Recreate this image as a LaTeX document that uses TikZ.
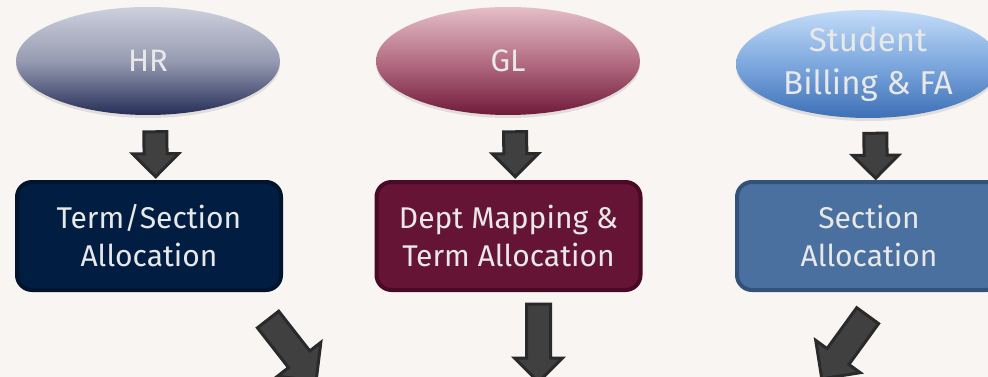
\documentclass[tikz,border=0pt]{standalone}
\usepackage{xcolor}
\usepackage{fontspec}
\setmainfont{Fira Sans}
\usetikzlibrary{shapes.geometric,shapes.arrows,shadows}
\definecolor{canvas}{RGB}{248,245,242}
\definecolor{hrtop}{RGB}{205,208,220}
\definecolor{hrmid}{RGB}{150,155,178}
\definecolor{hrbottom}{RGB}{38,46,88}
\definecolor{gltop}{RGB}{228,190,200}
\definecolor{glmid}{RGB}{180,110,132}
\definecolor{glbottom}{RGB}{112,26,58}
\definecolor{sbtop}{RGB}{195,220,248}
\definecolor{sbmid}{RGB}{125,168,222}
\definecolor{sbbottom}{RGB}{62,112,182}
\definecolor{hrbox}{RGB}{1,30,66}
\definecolor{hrline}{RGB}{0,20,45}
\definecolor{glbox}{RGB}{101,20,53}
\definecolor{glline}{RGB}{72,10,36}
\definecolor{sbbox}{RGB}{73,112,158}
\definecolor{sbline}{RGB}{50,82,122}
\definecolor{arrowfill}{RGB}{64,64,64}
\definecolor{arrowline}{RGB}{42,42,42}
\definecolor{label}{RGB}{232,232,232}
\tikzstyle{source}=[ellipse, minimum width=264pt, minimum height=108pt, inner sep=0pt, text=label, align=center, font=\fontsize{31}{38}\selectfont, drop shadow={shadow xshift=0pt, shadow yshift=-3pt, opacity=.2}]
\tikzset{source fill/.style args={#1,#2,#3}{source, top color=#1, bottom color=#3, middle color=#2}}
\tikzstyle{stage}=[rectangle, rounded corners=15pt, minimum width=264pt, minimum height=108pt, line width=4pt, text=label, align=center, font=\fontsize{30}{38}\selectfont]
\tikzstyle{blockarrow}=[single arrow, draw=arrowline, fill=arrowfill, line width=3pt, inner xsep=0pt, single arrow head indent=0pt, sloped, allow upside down]
\tikzstyle{small arrow}=[blockarrow, inner ysep=10pt, single arrow head extend=11.5pt, minimum height=45pt]
\tikzstyle{big arrow}=[blockarrow, inner ysep=12pt, single arrow head extend=14pt, minimum height=78pt]

\begin{document}
\begin{tikzpicture}[x=1pt,y=-1pt]
  \useasboundingbox (0,0) rectangle (988,377);
  \fill[canvas] (0,0) rectangle (988,377);

  \draw (148,61) node[source fill={hrtop,hrmid,hrbottom}] (HR) {HR};
  \draw (508,61) node[source fill={gltop,glmid,glbottom}] (GL) {GL};
  \draw (868,64) node[source fill={sbtop,sbmid,sbbottom}, font=\fontsize{33}{43}\selectfont] (SB) {Student\\Billing \& FA};

  \draw (149,236) node[stage, draw=hrline, fill=hrbox] (HRalloc) {Term/Section\\Allocation};
  \draw (508.5,236) node[stage, draw=glline, fill=glbox] (GLalloc) {Dept Mapping \&\\Term Allocation};
  \draw (869,236) node[stage, draw=sbline, fill=sbbox] (SBalloc) {Section\\Allocation};

  \path ([xshift=7pt]HR.center) -- ([xshift=7pt]HRalloc.center) node[midway, small arrow] {};
  \path ([xshift=7pt]GL.center) -- ([xshift=7pt]GLalloc.center) node[midway, small arrow] {};
  \path ([xshift=7pt]SB.center) -- ([xshift=7pt]SBalloc.center) node[midway, small arrow] {};

  %% Feeds below
  \path ([xshift=-20pt,yshift=-21pt]HRalloc.south east) -- ++(-52:81pt) node[midway, big arrow] {};
  \path ([xshift=30pt,yshift=-6pt]GLalloc.south) -- ++(0,78) node[midway, big arrow, inner ysep=10.5pt, single arrow head extend=12pt] {};
  \path ([xshift=3.5pt,yshift=-17pt]SBalloc.south) -- ++(234:81pt) node[midway, big arrow] {};
\end{tikzpicture}
\end{document}
